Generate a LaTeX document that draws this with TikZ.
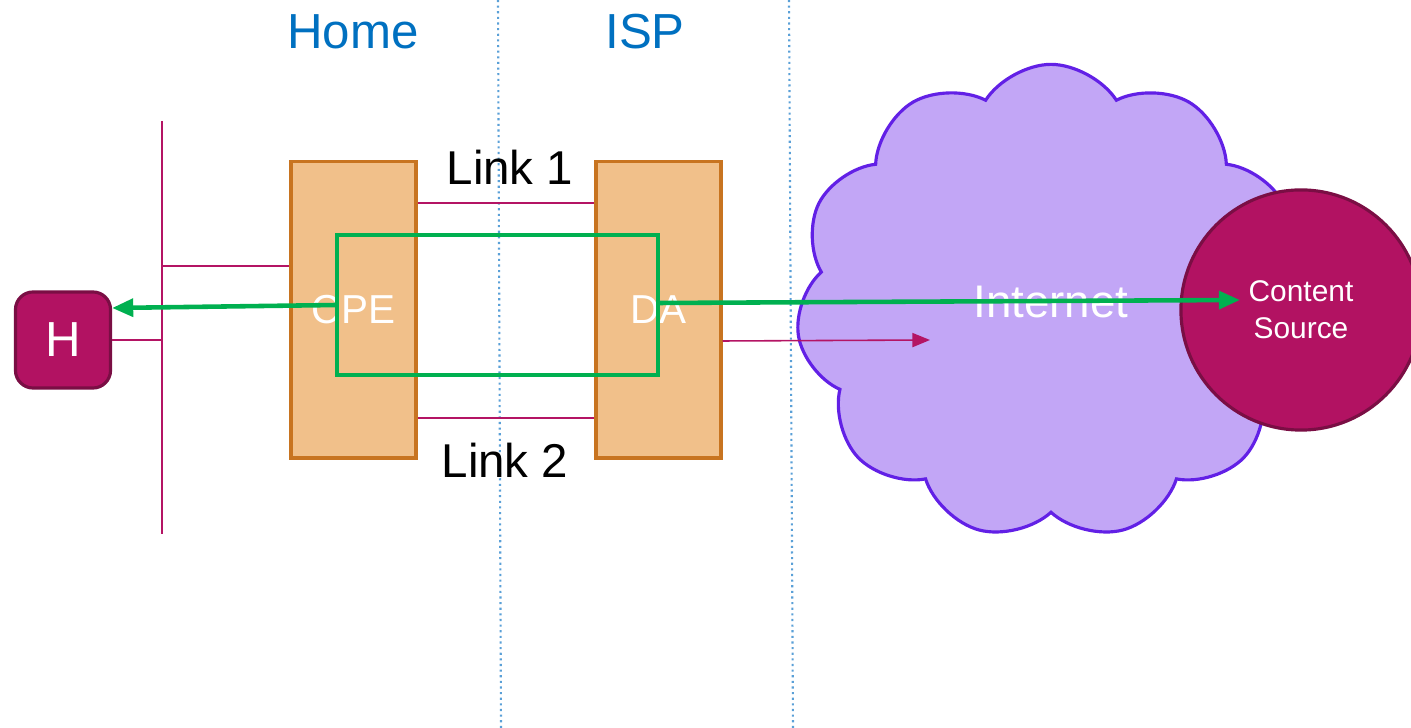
\documentclass[tikz,border=0pt]{standalone}
\usepackage{fontspec}
\setmainfont{Liberation Sans}
\usepackage{xcolor}
\usetikzlibrary{shapes.symbols,arrows.meta}

\definecolor{zoneblue}{RGB}{0,112,192}
\definecolor{sepblue}{RGB}{90,160,215}
\definecolor{boxfill}{RGB}{241,192,138}
\definecolor{boxedge}{RGB}{200,116,32}
\definecolor{plum}{RGB}{178,18,98}
\definecolor{plumdark}{RGB}{122,14,68}
\definecolor{wirered}{RGB}{180,20,100}
\definecolor{flowgreen}{RGB}{0,176,80}
\definecolor{cloudfill}{RGB}{194,166,246}
\definecolor{cloudedge}{RGB}{98,32,230}

\tikzset{
	sep/.style={sepblue,densely dotted,line width=0.6pt},
	zone/.style={zoneblue,font=\fontsize{14}{16}\selectfont},
	linklabel/.style={black,font=\fontsize{13.5}{16}\selectfont},
	device/.style={draw=boxedge,fill=boxfill,line width=0.9pt,minimum width=1.25cm,minimum height=2.96cm,inner sep=0pt,text=white,font=\fontsize{11.5}{14}\selectfont},
	wire/.style={wirered,line width=0.45pt},
	flow/.style={flowgreen,line width=1.3pt},
}

\begin{document}
\begin{tikzpicture}[x=0.01cm,y=-0.01cm]
	\useasboundingbox (0,0) rectangle (1411,728);

	% zones
	\draw[sep] (498,0) -- (501,728);
	\draw[sep] (789,0) -- (793,728);
	\node[zone] (home) at (353,32) {Home};
	\node[zone] (isp) at (645,32) {ISP};

	% home side
	\node[draw=plumdark,fill=plum,line width=0.9pt,rounded corners=5pt,minimum width=0.95cm,minimum height=0.96cm,inner sep=0pt,text=white,font=\fontsize{14}{16}\selectfont] (h) at (63,340) {H};
	\coordinate (bustop) at (162,121);
	\coordinate (busbot) at (162,534);
	\draw[wire] (bustop) -- (busbot);

	\node[device] (cpe) at (353.5,310) {CPE};
	\node[device] (da) at (658.5,310) {DA};

	\draw[wire] (bustop |- 0,266) -- (cpe.west |- 0,266);
	\draw[wire] (h.east |- 0,340) -- (bustop |- 0,340);

	% links
	\draw[wire] (cpe.east |- 0,203) -- (da.west |- 0,203);
	\draw[wire] (cpe.east |- 0,418) -- (da.west |- 0,418);
	\node[linklabel] (link1) at (510,167) {Link 1};
	\node[linklabel] (link2) at (505,460) {Link 2};

	% internet
	\node[cloud,cloud puffs=11,cloud puff arc=115,aspect=1.1,draw=cloudedge,fill=cloudfill,line width=0.9pt,minimum width=5.1cm,minimum height=4.75cm,text=white,font=\fontsize{13}{15}\selectfont] (internet) at (1051,302) {Internet};
	\node[circle,draw=plumdark,fill=plum,line width=0.9pt,minimum size=2.4cm,inner sep=0pt,align=center,text=white,font=\fontsize{8.5}{10.5}\selectfont] (src) at (1301,310) {Content\\Source};

	\draw[wire,-{Triangle[length=5pt,width=4pt]}] (da.east |- 0,341) -- (930,340);

	% traffic
	\draw[flow] (337,235) rectangle (658,375);
	\draw[flow,-{Triangle[length=6pt,width=5pt]}] (337,305) -- (h.east |- 0,308);
	\coordinate (tip) at (1240,300);
	\draw[flow,-{Triangle[length=6pt,width=5pt]}] (658,303) -- (tip);
\end{tikzpicture}
\end{document}
